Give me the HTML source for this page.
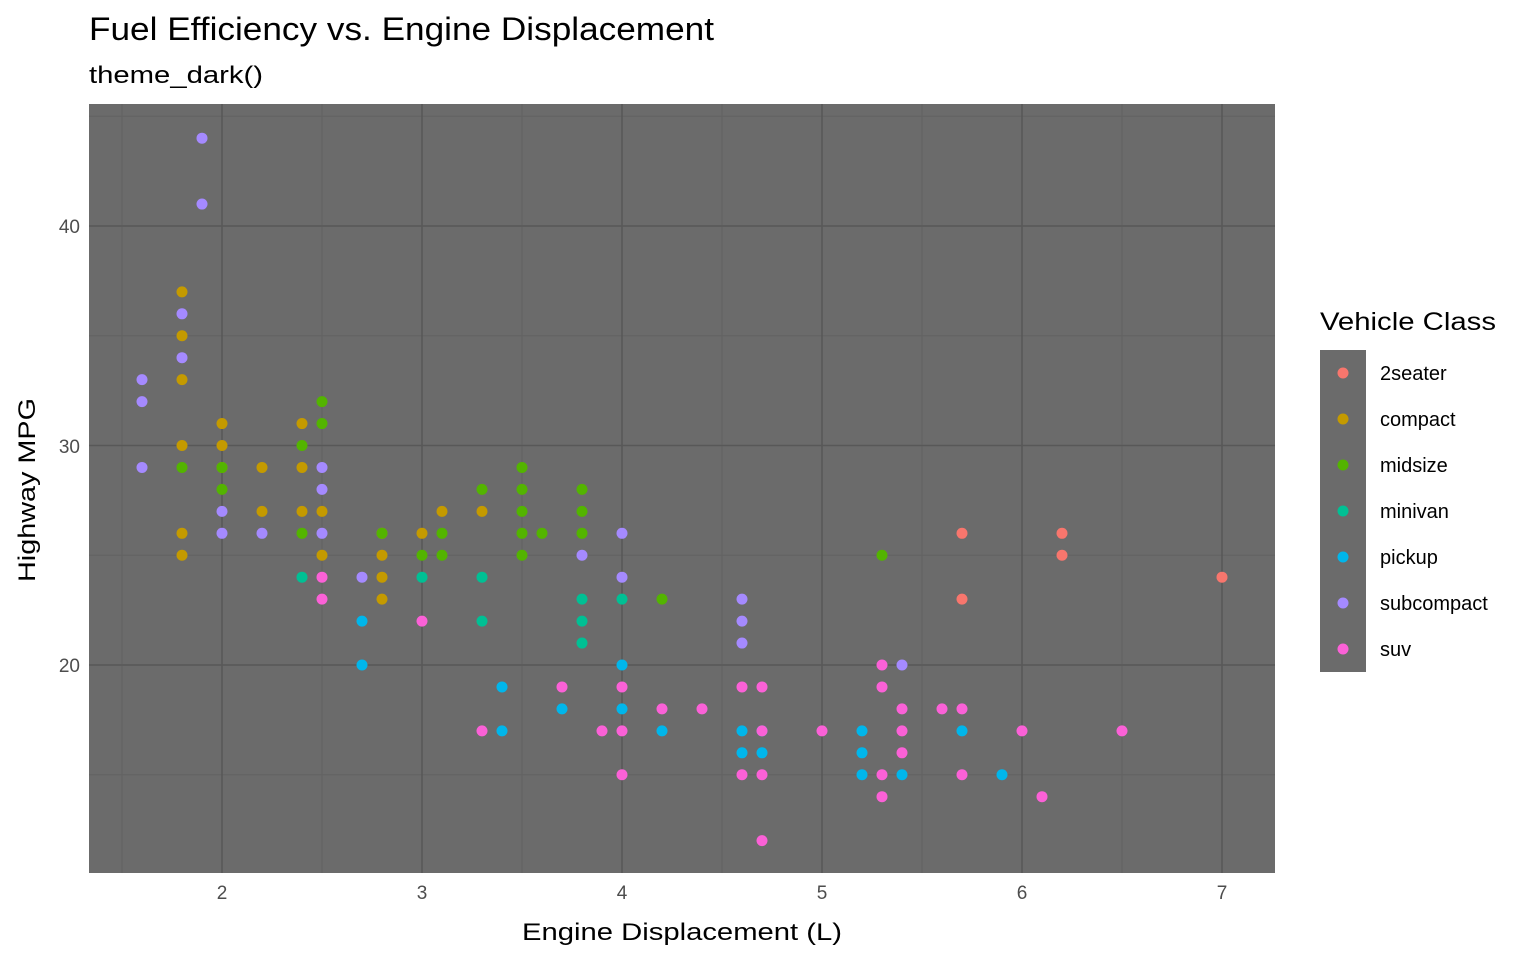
<!DOCTYPE html>
<html><head><meta charset="utf-8"><style>
body{margin:0;background:#fff}
svg text{font-family:"Liberation Sans",Arial,sans-serif}
</style></head><body>
<svg width="1536" height="960" xmlns="http://www.w3.org/2000/svg" id="s">
<rect width="1536" height="960" fill="#fff"/>
<text x="89" y="40" font-size="32" fill="#000" textLength="625" lengthAdjust="spacingAndGlyphs">Fuel Efficiency vs. Engine Displacement</text>
<text x="89" y="83" font-size="24" fill="#000" textLength="174" lengthAdjust="spacingAndGlyphs">theme_dark()</text>
<rect x="89" y="104" width="1186" height="769" fill="#6B6B6B"/>
<g id="grid"></g>
<g id="pts"></g>
<g font-size="19" fill="#4D4D4D" text-anchor="end">
<text x="80" y="672">20</text><text x="80" y="453">30</text><text x="80" y="233">40</text>
</g>
<g font-size="19" fill="#4D4D4D" text-anchor="middle">
<text x="222" y="899">2</text><text x="422" y="899">3</text><text x="622" y="899">4</text><text x="822" y="899">5</text><text x="1022" y="899">6</text><text x="1222" y="899">7</text>
</g>
<text x="522" y="940" font-size="24" fill="#000" textLength="320" lengthAdjust="spacingAndGlyphs">Engine Displacement (L)</text>
<text transform="translate(35,582) rotate(-90)" font-size="24" fill="#000" textLength="184" lengthAdjust="spacingAndGlyphs">Highway MPG</text>
<text x="1320" y="330" font-size="25" fill="#000" textLength="176" lengthAdjust="spacingAndGlyphs">Vehicle Class</text>
<rect x="1320" y="350" width="46" height="322" fill="#6B6B6B"/>
<g id="leg"></g>
</svg>
<script>
var NS="http://www.w3.org/2000/svg";
function X(v){return 200*v-178}function Y(v){return 665-21.95*(v-20)}
function el(p,t,a){var e=document.createElementNS(NS,t);for(var k in a)e.setAttribute(k,a[k]);document.getElementById(p).appendChild(e);return e}
[1.5,2.5,3.5,4.5,5.5,6.5].forEach(function(v){el("grid","line",{x1:X(v),x2:X(v),y1:104,y2:873,stroke:"#626262","stroke-width":1})});
[15,25,35,45].forEach(function(v){el("grid","line",{y1:Y(v),y2:Y(v),x1:89,x2:1275,stroke:"#626262","stroke-width":1})});
[2,3,4,5,6,7].forEach(function(v){el("grid","line",{x1:X(v),x2:X(v),y1:104,y2:873,stroke:"#585858","stroke-width":1.6})});
[20,30,40].forEach(function(v){el("grid","line",{y1:Y(v),y2:Y(v),x1:89,x2:1275,stroke:"#585858","stroke-width":1.6})});
var C={"2seater":"#F8766D",compact:"#C49A00",midsize:"#53B400",minivan:"#00C094",pickup:"#00B6EB",subcompact:"#A58AFF",suv:"#FB61D7"};
var D={
"2seater":[[5.7,26],[5.7,23],[6.2,26],[6.2,25],[7,24]],
compact:[[1.8,37],[1.8,35],[1.8,33],[1.8,30],[1.8,26],[1.8,25],[2,31],[2,30],[2,29],[2.2,29],[2.2,27],[2.4,31],[2.4,29],[2.4,27],[2.5,27],[2.5,25],[2.8,26],[2.8,25],[2.8,24],[2.8,23],[3,26],[3.1,27],[3.3,27]],
midsize:[[1.8,29],[2,29],[2,28],[2.4,30],[2.4,26],[2.5,32],[2.5,31],[2.8,26],[3,25],[3.1,26],[3.1,25],[3.3,28],[3.5,29],[3.5,28],[3.5,27],[3.5,26],[3.5,25],[3.6,26],[3.8,28],[3.8,27],[3.8,26],[4.2,23],[5.3,25]],
minivan:[[2.4,24],[3,24],[3.3,24],[3.3,22],[3.8,23],[3.8,22],[3.8,21],[4,23]],
pickup:[[2.7,22],[2.7,20],[3.4,19],[3.4,17],[3.7,18],[4,20],[4,18],[4.2,17],[4.6,17],[4.6,16],[4.7,17],[4.7,16],[5.2,17],[5.2,16],[5.2,15],[5.4,15],[5.7,17],[5.9,15]],
subcompact:[[1.6,33],[1.6,32],[1.6,29],[1.8,36],[1.8,34],[1.9,44],[1.9,41],[2,27],[2,26],[2.2,26],[2.5,29],[2.5,28],[2.5,26],[2.7,24],[3.8,25],[4,26],[4,24],[4.6,23],[4.6,22],[4.6,21],[5.4,20]],
suv:[[2.5,24],[2.5,23],[3,22],[3.3,17],[3.7,19],[3.9,17],[4,19],[4,17],[4,15],[4.2,18],[4.4,18],[4.6,19],[4.6,15],[4.7,19],[4.7,17],[4.7,15],[4.7,12],[5,17],[5.3,20],[5.3,19],[5.3,15],[5.3,14],[5.4,18],[5.4,17],[5.4,16],[5.6,18],[5.7,18],[5.7,15],[6,17],[6.1,14],[6.5,17]]};
var i=0;for(var k in C){D[k].forEach(function(p){el("pts","circle",{cx:X(p[0]),cy:Y(p[1]),r:5.5,fill:C[k]})});
var y=373+46*i;el("leg","circle",{cx:1343,cy:y,r:5.5,fill:C[k]});
var t=el("leg","text",{x:1380,y:y+7,"font-size":20,fill:"#000"});t.textContent=k;i++;}
</script>
</body></html>
